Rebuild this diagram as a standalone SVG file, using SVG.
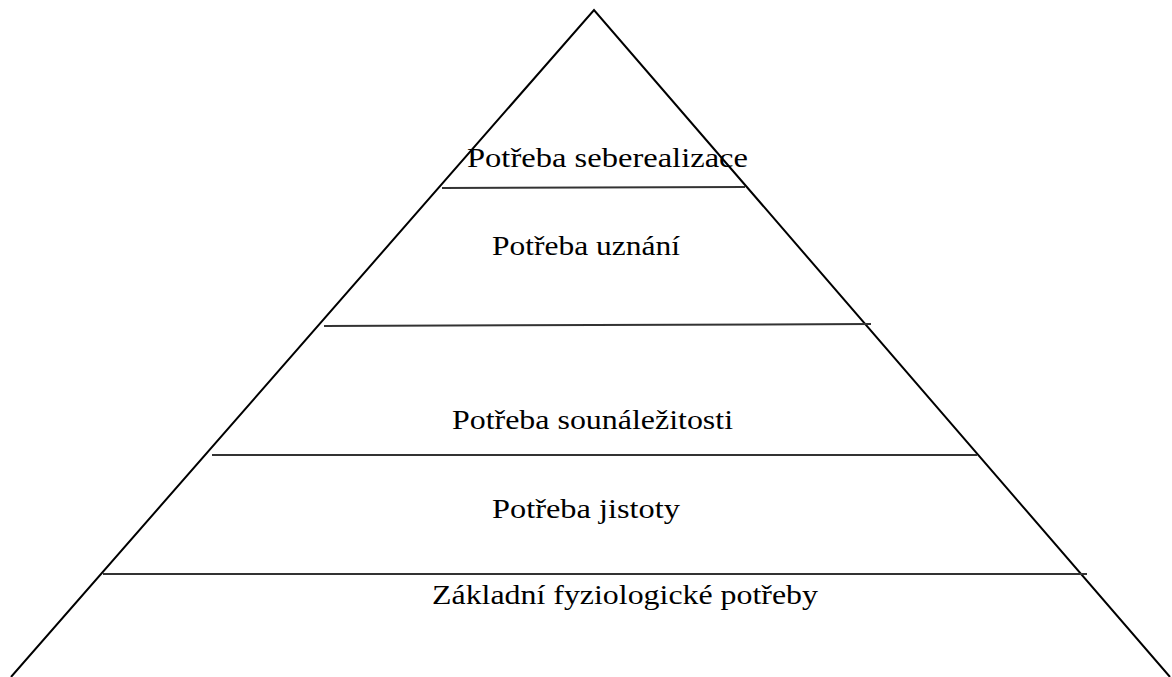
<svg xmlns="http://www.w3.org/2000/svg" width="1172" height="677" viewBox="0 0 1172 677">
<style>
.edge{stroke:#000;stroke-width:2;fill:none}
.tier{stroke:#333;stroke-width:2;fill:none}
.lbl{fill:#000;font-family:"Times New Roman","Liberation Serif",Times,serif;font-size:27px}
</style>
<rect width="1172" height="677" fill="#fff"/>
<g id="pyramid">
<polyline class="edge" points="11,677 594,10 1170,677"/>
</g>
<g id="connectors">
<line class="tier" x1="442" y1="188" x2="745" y2="187"/>
<line class="tier" x1="324" y1="326" x2="871" y2="324"/>
<line class="tier" x1="212" y1="455" x2="977" y2="455"/>
<line class="tier" x1="103" y1="574" x2="1087" y2="574"/>
</g>
<g id="level-5"><text class="lbl" x="467" y="167" textLength="281" lengthAdjust="spacingAndGlyphs">Potřeba seberealizace</text></g>
<g id="level-4"><text class="lbl" x="492" y="255" textLength="188" lengthAdjust="spacingAndGlyphs">Potřeba uznání</text></g>
<g id="level-3"><text class="lbl" x="452" y="429" textLength="281" lengthAdjust="spacingAndGlyphs">Potřeba sounáležitosti</text></g>
<g id="level-2"><text class="lbl" x="492" y="518" textLength="188" lengthAdjust="spacingAndGlyphs">Potřeba jistoty</text></g>
<g id="level-1"><text class="lbl" x="432" y="604" textLength="386" lengthAdjust="spacingAndGlyphs">Základní fyziologické potřeby</text></g>
</svg>
